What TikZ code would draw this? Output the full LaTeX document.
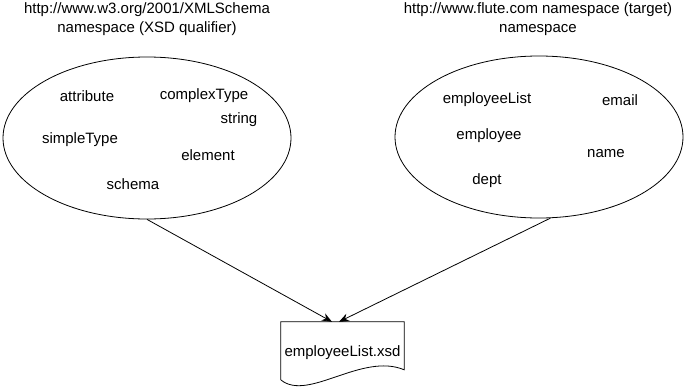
\documentclass[tikz,border=0pt]{standalone}
\usepackage{fontspec}
\setmainfont{Liberation Sans}
\usetikzlibrary{arrows.meta,positioning,shapes.geometric}

\begin{document}
\begin{tikzpicture}[x=1pt,y=-1pt,
  word/.style={font=\fontsize{15}{19}\selectfont,inner sep=1pt},
  title/.style={font=\fontsize{15}{19}\selectfont,align=center},
  nspace/.style={ellipse,draw,line width=0.8pt,minimum width=288pt,minimum height=162pt},
  arr/.style={-{Stealth[length=10pt,width=8pt]},line width=0.8pt},
]
  \useasboundingbox (0,0) rectangle (685,391);

  % XML Schema namespace
  \node[title] (xsdtitle) at (147,19) {http://www.w3.org/2001/XMLSchema\\namespace (XSD qualifier)};
  \node[nspace] (xsdns) at (147,138) {};
  \node[word] (attribute)   at (87,96)   {attribute};
  \node[word] (complextype) at (204,96)  {complexType};
  \node[word] (string)      at (239,120) {string};
  \node[word] (simpletype)  at (80,140)  {simpleType};
  \node[word] (element)     at (208,155) {element};
  \node[word] (schema)      at (133,184) {schema};

  % target namespace
  \node[title] (tnstitle) at (538,19) {http://www.flute.com namespace (target)\\namespace};
  \node[nspace] (tns) at (539,137) {};
  \node[word] (employeelist) at (487,100) {employeeList};
  \node[word] (email)        at (620,100) {email};
  \node[word] (employee)     at (489,136) {employee};
  \node[word] (name)         at (606,154) {name};
  \node[word] (dept)         at (487,181) {dept};

  % schema document
  \node[word,minimum width=123pt,minimum height=62pt] (xsd) at (342.5,353) {employeeList.xsd};
  \draw[line width=0.8pt] (xsd.south west) ++(0,-4)
    -- (xsd.north west) -- (xsd.north east) -- ++(0,48)
    .. controls (362,352) and (308,402) .. (281,380);
  \coordinate (inleft)  at ([xshift=-10.5pt]xsd.north);
  \coordinate (inright) at ([xshift=-3.5pt]xsd.north);

  % arrows
  \draw[arr] (xsdns.south) -- (inleft);
  \draw[arr] (tns.-82) -- (inright);
\end{tikzpicture}
\end{document}
